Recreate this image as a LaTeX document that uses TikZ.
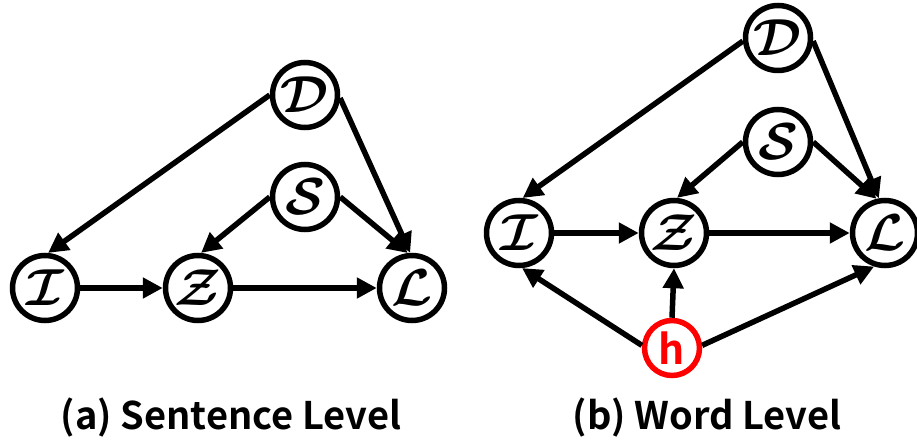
\RequirePackage{fix-cm}
\documentclass[tikz,border=0pt]{standalone}
\usepackage{fontspec}
\newfontfamily\capfont{Noto Sans CJK KR}[BoldFont={Noto Sans CJK KR Bold}]
\usetikzlibrary{arrows.meta}
\tikzset{
  var/.style={circle, draw=black, line width=5.5pt, minimum size=65pt, inner sep=0pt,
    font=\fontsize{52}{52}\selectfont\boldmath},
  hid/.style={circle, draw=red, line width=5.5pt, minimum size=55pt, inner sep=0pt,
    text=red, font=\capfont\bfseries\fontsize{41}{41}\selectfont},
  edge/.style={line width=5.5pt, -{Triangle[length=20pt,width=20pt]}},
  caption/.style={font=\capfont\bfseries\fontsize{38}{38}\selectfont, inner sep=0pt}
}
\begin{document}
\begin{tikzpicture}[x=1pt, y=-1pt]
\useasboundingbox (0,0) rectangle (917,443);
% (a) sentence-level graph
\node[var] (aD) at (305,95)  {$\mathcal{D}$};
\node[var] (aS) at (305,197) {$\mathcal{S}$};
\node[var] (aI) at (45,288)  {$\mathcal{I}$};
\node[var] (aZ) at (198,288) {$\mathcal{Z}$};
\node[var] (aL) at (412,288) {$\mathcal{L}$};
\draw[edge] (aD.west) -- (aI.85);
\draw[edge] (aD.-5) -- (aL.93);
\draw[edge] (aS.west) -- (aZ.85);
\draw[edge] (aS.east) -- (aL.97);
\draw[edge] (aI.east) -- (aZ.west);
\draw[edge] (aZ.east) -- (aL.west);
\node[caption] (capa) at (231,418) {(a) Sentence Level};
% (b) word-level graph
\node[var] (bD) at (778,38)  {$\mathcal{D}$};
\node[var] (bS) at (778,142) {$\mathcal{S}$};
\node[var] (bI) at (519,233) {$\mathcal{I}$};
\node[var] (bZ) at (674,233) {$\mathcal{Z}$};
\node[var] (bL) at (885,233) {$\mathcal{L}$};
\node[hid] (bh) at (672,348) {h};
\draw[edge] (bD.185) -- (bI.84);
\draw[edge] (bD.-5) -- (bL.100);
\draw[edge] (bS.west) -- (bZ.85);
\draw[edge] (bS.east) -- (bL.104);
\draw[edge] (bI.east) -- (bZ.west);
\draw[edge] (bZ.east) -- (bL.west);
\draw[edge] (bh.175) -- (bI.-85);
\draw[edge] (bh.north) -- (bZ.south);
\draw[edge] (bh.5) -- (bL.-108);
\node[caption] (capb) at (707,418) {(b) Word Level};
\end{tikzpicture}
\end{document}
